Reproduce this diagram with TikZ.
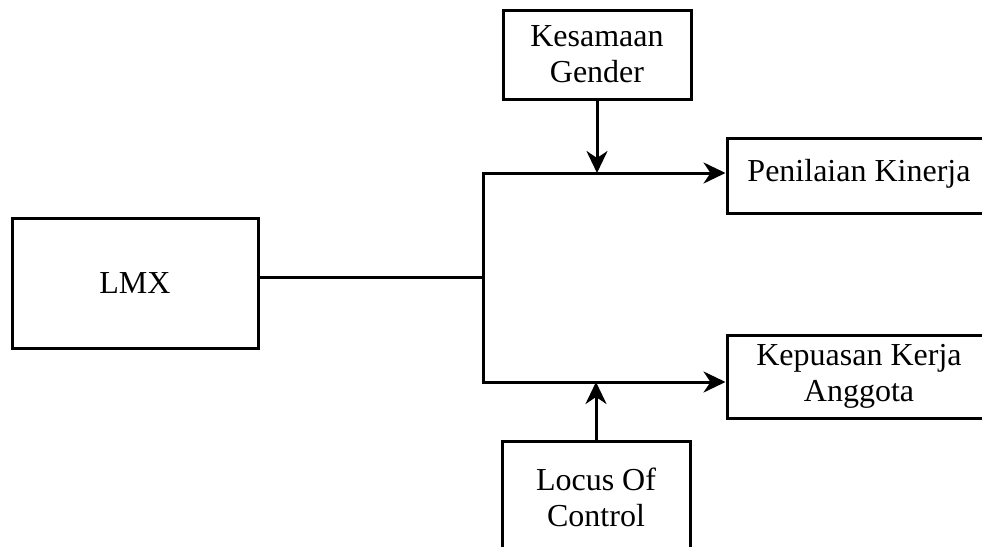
\documentclass[tikz,border=0pt]{standalone}
\usepackage{fontspec}
\setmainfont{Liberation Serif}
\usetikzlibrary{arrows.meta}
\usetikzlibrary{positioning}
\begin{document}
\begin{tikzpicture}
		[x=1pt, y=-1pt, line width=3pt,
		 kotak/.style={draw, rectangle, align=center, inner sep=0pt, font=\fontsize{32}{36}\selectfont},
		 panah/.style={-{Stealth[length=22pt, width=21pt, inset=7pt]}}]
		\clip (0,0) rectangle (982,546);
		\coordinate (jt) at (483,173);
		\coordinate (jm) at (483,277);
		\coordinate (jb) at (483,382);
		\node[kotak, minimum width=246pt, minimum height=130pt] (lmx) at (135,283) {LMX};
		\node[kotak, minimum width=188pt, minimum height=89pt] (gender) at (597,54.5) {Kesamaan\\Gender};
		\node[kotak, minimum width=264pt, minimum height=75pt] (kinerja) at (859,175.5) {\raisebox{10pt}{Penilaian Kinerja}};
		\node[kotak, minimum width=264pt, minimum height=83pt] (kepuasan) at (859,376.5) {Kepuasan Kerja\\Anggota};
		\node[kotak, minimum width=188pt, minimum height=112pt] (locus) at (596,497) {Locus Of\\Control};
		\draw (lmx.east |- jm) -- (jm);
		\draw[{Stealth[length=22pt, width=21pt, inset=7pt]}-{Stealth[length=22pt, width=21pt, inset=7pt]}]
			(jb -| kepuasan.west) -- (jb) -- (jt) -- (jt -| kinerja.west);
		\draw[panah] (gender.south) -- (gender.south |- jt);
		\draw[panah] (locus.north) -- (locus.north |- jb);
	\end{tikzpicture}
\end{document}
